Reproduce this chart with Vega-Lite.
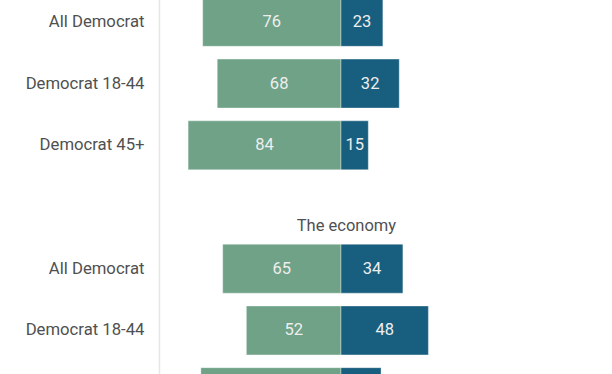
{
  "$schema": "https://vega.github.io/schema/vega-lite/v6.json",
  "autosize": {"type": "none"},
  "width": 364,
  "height": 432,
  "padding": {"left": 159, "top": -9, "right": 0, "bottom": 0},
  "background": "white",
  "config": {
    "view": {"stroke": null},
    "font": "Roboto"
  },
  "data": {
    "values": [
      {"row": "g1|All Democrat", "answer": "Yes", "value": 76},
      {"row": "g1|All Democrat", "answer": "No", "value": 23},
      {"row": "g1|Democrat 18-44", "answer": "Yes", "value": 68},
      {"row": "g1|Democrat 18-44", "answer": "No", "value": 32},
      {"row": "g1|Democrat 45+", "answer": "Yes", "value": 84},
      {"row": "g1|Democrat 45+", "answer": "No", "value": 15},
      {"row": "g2|All Democrat", "answer": "Yes", "value": 65},
      {"row": "g2|All Democrat", "answer": "No", "value": 34},
      {"row": "g2|Democrat 18-44", "answer": "Yes", "value": 52},
      {"row": "g2|Democrat 18-44", "answer": "No", "value": 48},
      {"row": "g2|Democrat 45+", "answer": "Yes", "value": 77},
      {"row": "g2|Democrat 45+", "answer": "No", "value": 22}
    ]
  },
  "transform": [
    {"calculate": "datum.answer === 'Yes' ? -datum.value : datum.value", "as": "signed"},
    {"calculate": "datum.signed / 2", "as": "mid"}
  ],
  "encoding": {
    "y": {
      "field": "row",
      "type": "nominal",
      "scale": {
        "domain": ["g1|All Democrat", "g1|Democrat 18-44", "g1|Democrat 45+", "h2|", "g2|All Democrat", "g2|Democrat 18-44", "g2|Democrat 45+"],
        "paddingInner": 0.207,
        "paddingOuter": 0.1035
      },
      "axis": {
        "title": null,
        "ticks": false,
        "labelPadding": 15,
        "labelFontSize": 16.7,
        "labelColor": "#505050",
        "labelFont": "Roboto",
        "domainColor": "#e6e6e6",
        "domainWidth": 1.5,
        "labelExpr": "split(datum.value, '|')[1]"
      }
    }
  },
  "layer": [
    {
      "mark": {"type": "bar", "stroke": "#ffffff", "strokeWidth": 0.6, "strokeOpacity": 0.6},
      "encoding": {
        "x": {
          "field": "signed",
          "type": "quantitative",
          "scale": {"domain": [-100, 100]},
          "axis": null
        },
        "x2": {"datum": 0},
        "color": {
          "field": "answer",
          "type": "nominal",
          "scale": {"domain": ["Yes", "No"], "range": ["#6fa287", "#185e7e"]},
          "legend": null
        }
      }
    },
    {
      "mark": {"type": "text", "align": "center", "baseline": "middle", "fontSize": 16.5, "color": "#eeeeee", "font": "Roboto"},
      "encoding": {
        "x": {"field": "mid", "type": "quantitative"},
        "text": {"field": "value", "type": "quantitative"}
      }
    },
    {
      "data": {"values": [{"row": "h2|", "title": "The economy"}]},
      "mark": {"type": "text", "align": "center", "baseline": "middle", "fontSize": 16.5, "color": "#505050", "font": "Roboto", "dy": 19},
      "encoding": {
        "x": {"datum": 3},
        "text": {"field": "title"}
      }
    }
  ]
}
